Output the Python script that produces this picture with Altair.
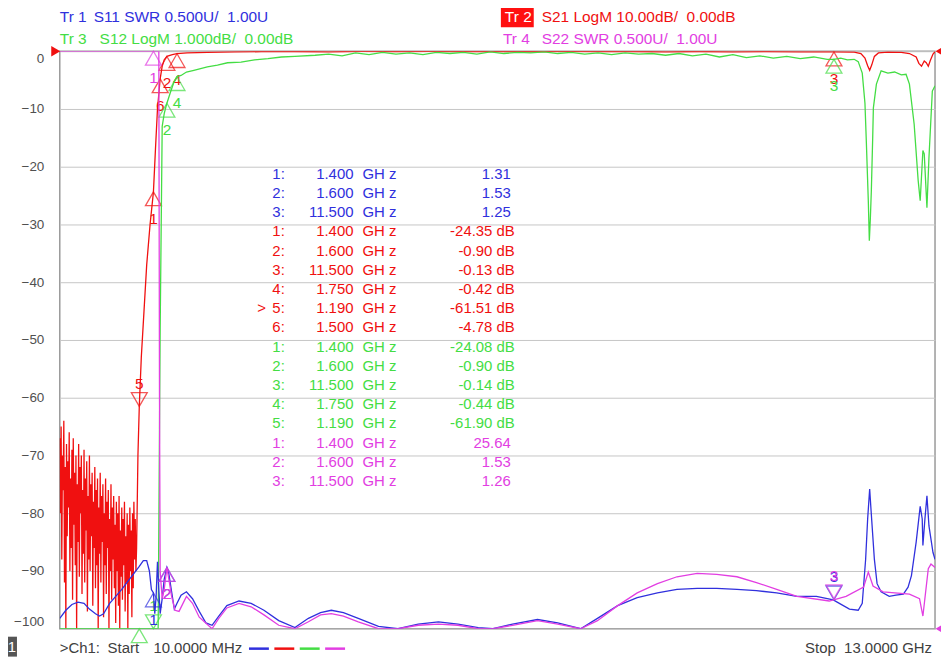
import altair as alt
import pandas as pd

# ---------------- data ----------------
# S21 (Tr 2, LogM, dB): noisy stop band, then the pass band
s21_f = [0.01, 0.02, 0.03, 0.04, 0.05, 0.06, 0.07, 0.08, 0.09, 0.10, 0.11, 0.12, 0.13, 0.14, 0.15,
         0.16, 0.17, 0.18, 0.19, 0.20, 0.21, 0.22, 0.23, 0.24, 0.25, 0.26, 0.27, 0.28, 0.29, 0.30,
         0.31, 0.32, 0.33, 0.34, 0.35, 0.36, 0.37, 0.38, 0.39, 0.40, 0.41, 0.42, 0.43, 0.44, 0.45,
         0.46, 0.47, 0.48, 0.49, 0.50, 0.51, 0.52, 0.53, 0.54, 0.55, 0.56, 0.57, 0.58, 0.59, 0.60,
         0.61, 0.62, 0.63, 0.64, 0.65, 0.66, 0.67, 0.68, 0.69, 0.70, 0.71, 0.72, 0.73, 0.74, 0.75,
         0.76, 0.77, 0.78, 0.79, 0.80, 0.81, 0.82, 0.83, 0.84, 0.85, 0.86, 0.87, 0.88, 0.89, 0.90,
         0.91, 0.92, 0.93, 0.94, 0.95, 0.96, 0.97, 0.98, 0.99, 1.00, 1.01, 1.02, 1.03, 1.04, 1.05,
         1.06, 1.07, 1.08, 1.09, 1.10, 1.11, 1.12, 1.13, 1.14, 1.15,
         1.17, 1.19, 1.22, 1.26, 1.30, 1.35, 1.40, 1.43, 1.46, 1.50, 1.53, 1.56, 1.60, 1.68, 1.75,
         1.9, 2.2, 2.6, 3.0, 3.5, 4.0, 4.5, 5.0, 5.5, 6.0, 6.5, 7.0, 7.5, 8.0, 8.5, 9.0, 9.5, 10.0,
         10.5, 11.0, 11.5, 11.8, 11.9, 11.96, 12.0, 12.03, 12.06, 12.1, 12.16, 12.3, 12.5, 12.62,
         12.72, 12.76, 12.8, 12.84, 12.87, 12.9, 12.93, 12.97, 13.0]
s21_db = [-67, -80, -65, -88, -70, -76, -64, -92, -72, -100, -68, -84, -71, -79, -66,
          -90, -74, -86, -69, -95, -67, -82, -73, -89, -70, -100, -75, -85, -68, -91,
          -72, -80, -70, -94, -76, -87, -69, -92, -74, -83, -71, -97, -77, -88, -70,
          -90, -75, -84, -73, -96, -78, -86, -72, -93, -76, -89, -74, -100, -79, -87,
          -73, -92, -77, -85, -75, -98, -80, -89, -74, -94, -78, -86, -76, -100, -81,
          -90, -75, -95, -79, -88, -77, -93, -82, -99, -78, -90, -80, -96, -77, -100,
          -83, -91, -79, -95, -81, -89, -78, -97, -84, -92, -80, -100, -82, -94, -79,
          -90, -83, -98, -80, -93, -78, -88, -81, -90, -86,
          -70, -61.51, -53, -45, -37, -30, -24.35, -17, -10, -4.78, -2.6, -1.5, -0.90, -0.6, -0.42,
          -0.3, -0.2, -0.12, -0.08, -0.05, -0.1, -0.04, -0.08, -0.03, -0.07, -0.05, -0.09, -0.04,
          -0.08, -0.05, -0.1, -0.06, -0.11, -0.08, -0.12, -0.13, -0.15, -0.4, -1.2, -2.5, -3.3,
          -2.4, -0.9, -0.3, -0.15, -0.2, -0.4, -1.0, -2.1, -2.6, -1.7, -2.0, -2.6, -1.6, -0.5, -0.1]

# S12 (Tr 3, LogM, dB)
s12_f = [0.01, 0.5, 1.0, 1.19, 1.40, 1.47, 1.50, 1.53, 1.56, 1.60, 1.65, 1.70, 1.75, 1.81, 1.89,
         2.0, 2.1, 2.2, 2.35, 2.5, 2.7, 2.9, 3.1, 3.3, 3.5, 3.8, 4.0, 4.2, 4.4, 4.6, 4.8, 5.0,
         5.2, 5.4, 5.6, 5.8, 6.0, 6.2, 6.4, 6.6, 6.8, 7.0, 7.2, 7.4, 7.6, 7.8, 8.0, 8.2, 8.4,
         8.6, 8.8, 9.0, 9.2, 9.4, 9.6, 9.8, 10.0, 10.2, 10.4, 10.6, 10.8, 11.0, 11.2, 11.4,
         11.5, 11.6, 11.7, 11.8, 11.86, 11.92, 11.96, 11.98, 12.01, 12.025, 12.04, 12.055,
         12.075, 12.085, 12.13, 12.2, 12.3, 12.4, 12.5, 12.57, 12.62, 12.69, 12.75, 12.78,
         12.82, 12.84, 12.88, 12.91, 12.96, 13.0]
s12_db = [-60, -65, -70, -61.90, -24.08, -12, -4.8, -1.3, -1.08, -0.90, -0.72, -0.55, -0.44, -0.42,
          -0.36, -0.33, -0.30, -0.27, -0.24, -0.20, -0.19, -0.15, -0.13, -0.10, -0.09, -0.07,
          -0.05, -0.08, -0.03, -0.06, -0.02, -0.05, -0.03, -0.06, -0.02, -0.04, -0.02, -0.05,
          -0.01, -0.04, -0.02, -0.03, -0.01, -0.04, -0.02, -0.05, -0.03, -0.06, -0.03, -0.05,
          -0.04, -0.07, -0.04, -0.08, -0.05, -0.10, -0.06, -0.11, -0.08, -0.12, -0.09, -0.13,
          -0.10, -0.14, -0.14, -0.12, -0.15, -0.14, -0.18, -0.38, -0.9, -1.55, -2.6, -3.28,
          -2.9, -2.41, -1.5, -0.98, -0.57, -0.34, -0.38, -0.36, -0.41, -0.40, -0.57, -1.26,
          -2.24, -2.59, -1.72, -1.78, -2.71, -1.84, -0.69, -0.60]

# S11 (Tr 1, SWR)
s11_f = [0.01, 0.10, 0.19, 0.28, 0.37, 0.45, 0.54, 0.60, 0.66, 0.75, 0.84, 0.93, 1.02, 1.10,
         1.19, 1.25, 1.30, 1.34, 1.37, 1.40, 1.42, 1.44, 1.46, 1.48, 1.50, 1.53, 1.56, 1.60,
         1.63, 1.67, 1.71, 1.75, 1.81, 1.89, 1.98, 2.08, 2.18, 2.27, 2.37, 2.49, 2.67, 2.85,
         3.04, 3.26, 3.50, 3.70, 3.88, 4.04, 4.22, 4.44, 4.74, 5.03, 5.33, 5.63, 5.92, 6.22,
         6.44, 6.73, 7.10, 7.40, 7.74, 7.99, 8.29, 8.58, 8.88, 9.17, 9.47, 9.76, 10.06, 10.35,
         10.65, 10.95, 11.24, 11.49, 11.58, 11.73, 11.86, 11.92, 11.97, 12.00, 12.03, 12.05,
         12.10, 12.14, 12.20, 12.32, 12.42, 12.53, 12.60, 12.65, 12.72, 12.78, 12.81, 12.82,
         12.85, 12.88, 12.91, 12.97, 13.0]
s11_swr = [1.09, 1.16, 1.21, 1.23, 1.22, 1.17, 1.13, 1.11, 1.13, 1.22, 1.28, 1.34, 1.41, 1.47,
           1.54, 1.59, 1.59, 1.50, 1.34, 1.31, 1.13, 1.28, 1.58, 1.34, 1.13, 1.26, 1.43, 1.53,
           1.47, 1.32, 1.17, 1.22, 1.29, 1.32, 1.26, 1.15, 1.05, 1.03, 1.11, 1.20, 1.24, 1.22,
           1.16, 1.07, 1.01, 1.09, 1.14, 1.16, 1.14, 1.09, 1.02, 0.99, 1.04, 1.06, 1.04, 1.01,
           0.99, 1.04, 1.08, 1.05, 0.98, 1.09, 1.20, 1.27, 1.31, 1.34, 1.35, 1.35, 1.34, 1.33,
           1.31, 1.28, 1.28, 1.25, 1.22, 1.17, 1.16, 1.22, 1.60, 1.95, 2.21, 2.03,
           1.60, 1.39, 1.32, 1.28, 1.29, 1.30, 1.36, 1.46, 1.75, 2.06, 1.95, 1.72,
           1.95, 2.15, 1.89, 1.66, 1.60]

# S22 (Tr 4, SWR)
s22_f = [0.01, 0.5, 1.0, 1.40, 1.46, 1.48, 1.49, 1.50, 1.53, 1.56, 1.60, 1.67, 1.72, 1.78,
         1.89, 1.98, 2.08, 2.27, 2.37, 2.49, 2.67, 2.85, 3.04, 3.26, 3.50, 3.70, 3.88, 4.04,
         4.22, 4.44, 4.74, 5.03, 5.33, 5.63, 5.92, 6.22, 6.44, 6.73, 7.10, 7.40, 7.74, 7.99,
         8.29, 8.58, 8.88, 9.17, 9.47, 9.76, 10.06, 10.35, 10.65, 10.95, 11.43, 11.68, 11.94,
         12.01, 12.08, 12.23, 12.62, 12.77, 12.82, 12.90, 12.94, 13.0]
s22_swr = [38, 35, 30, 25.64, 14, 6.5, 3.0, 1.49, 1.26, 1.34, 1.53, 1.28, 1.16, 1.15,
           1.28, 1.22, 1.10, 1.00, 1.09, 1.18, 1.22, 1.19, 1.12, 1.03, 0.99, 1.06, 1.12, 1.13,
           1.11, 1.06, 1.00, 0.98, 1.03, 1.04, 1.03, 0.99, 0.98, 1.03, 1.07, 1.04, 0.98, 1.07,
           1.20, 1.31, 1.39, 1.45, 1.48, 1.47, 1.45, 1.40, 1.34, 1.28, 1.24, 1.28, 1.36,
           1.49, 1.37, 1.32, 1.30, 1.26, 1.11, 1.52, 1.56, 1.53]

# markers: (number, frequency GHz, readout)
s11_markers = [(1, 1.400, 1.31), (2, 1.600, 1.53), (3, 11.500, 1.25)]
s21_markers = [(1, 1.400, -24.35), (2, 1.600, -0.90), (3, 11.500, -0.13), (4, 1.750, -0.42),
               (5, 1.190, -61.51), (6, 1.500, -4.78)]
s12_markers = [(1, 1.400, -24.08), (2, 1.600, -0.90), (3, 11.500, -0.14), (4, 1.750, -0.44),
               (5, 1.190, -61.90)]
s22_markers = [(1, 1.400, 25.64), (2, 1.600, 1.53), (3, 11.500, 1.26)]

y_ticks = [0, -10, -20, -30, -40, -50, -60, -70, -80, -90, -100]

NB = "\u00a0"
hdr_tr = ["Tr 1", "Tr 2", "Tr 3", "Tr 4"]
hdr_txt = ["S11 SWR 0.500U/" + NB + NB + "1.00U",
           "S21 LogM 10.00dB/" + NB + NB + "0.00dB",
           "S12 LogM 1.000dB/" + NB + NB + "0.00dB",
           "S22 SWR 0.500U/" + NB + NB + "1.00U"]
foot_parts = [">Ch1:", "Start", "10.0000 MHz"]
stop_text = "Stop" + NB + NB + "13.0000 GHz"

# ---------------- style ----------------
F0, F1 = 0.01, 13.0
W, H = 879, 580
FONT = "Liberation Sans, Arial, sans-serif"
BLUE, RED, GREEN, MAGENTA = "#3030dd", "#f01010", "#44dd44", "#e23ee2"
GREY_TXT = "#505050"

xscale = alt.Scale(domain=[F0, F1], nice=False, zero=False)
grid_x = [F0 + (F1 - F0) * i / 10 for i in range(1, 10)]

traces = [
    # name, freqs, values, lo, hi, color, markers, unit
    ("S21", s21_f, s21_db, -100.0, 0.0, RED, s21_markers, "dB"),
    ("S12", s12_f, s12_db, -10.0, 0.0, GREEN, s12_markers, "dB"),
    ("S11", s11_f, s11_swr, 1.0, 6.0, BLUE, s11_markers, ""),
    ("S22", s22_f, s22_swr, 1.0, 6.0, MAGENTA, s22_markers, ""),
]
active = {("S21", 5)}
flip_down = {("S21", 5), ("S11", 3), ("S22", 3), ("S12", 1)}

layers = []

# axis / grid carrier
axis_layer = alt.Chart(pd.DataFrame({"f": [F0, F1], "v": [-100.0, 0.0]})).mark_point(opacity=0).encode(
    x=alt.X("f:Q", scale=xscale,
            axis=alt.Axis(values=grid_x, labels=False, ticks=False, domain=False, grid=True,
                          gridColor="#c6c6c6", title=None)),
    y=alt.Y("v:Q", scale=alt.Scale(domain=[-100, 0], nice=False, zero=False),
            axis=alt.Axis(values=y_ticks, grid=True, gridColor="#c6c6c6", ticks=False, tickSize=0,
                          domain=False, labelFlush=True, labelPadding=16, labelFont=FONT,
                          labelFontSize=13.5, labelColor=GREY_TXT, title=None)),
)
layers.append(axis_layer)

for name, fs, vs, lo, hi, col, mk, unit in traces:
    ysc = alt.Scale(domain=[lo, hi], nice=False, zero=False)
    df = pd.DataFrame({"f": fs, "v": vs})
    line = alt.Chart(df).transform_calculate(
        yv=f"clamp(datum.v, {lo}, {hi})"
    ).mark_line(color=col, strokeWidth=1.3, clip=True).encode(
        x=alt.X("f:Q", scale=xscale, axis=None),
        y=alt.Y("yv:Q", scale=ysc, axis=None),
    )
    layers.append(line)
    mdf = pd.DataFrame({"n": [m[0] for m in mk], "f": [m[1] for m in mk], "v": [m[2] for m in mk]})
    mdf["lab"] = mdf["n"].astype(str)
    mdf["down"] = [(name, n) in flip_down for n in mdf["n"]]
    for down in (False, True):
        sub = mdf[mdf["down"] == down]
        if sub.empty:
            continue
        base = alt.Chart(sub).transform_calculate(yv=f"clamp(datum.v, {lo}, {hi})").encode(
            x=alt.X("f:Q", scale=xscale, axis=None),
            y=alt.Y("yv:Q", scale=ysc, axis=None),
        )
        tri = base.mark_point(shape="triangle-down" if down else "triangle-up", size=256,
                              filled=False, color=col, strokeWidth=1.3,
                              yOffset=-7 if down else 7)
        labsrc = base if down else base.transform_filter(f"datum.v > {lo}")
        lab = labsrc.mark_text(font=FONT, fontSize=15.5, color=col,
                               yOffset=-23 if down else 27).encode(text="lab:N")
        layers += [tri, lab]

# marker table
rows = []
table_order = [traces[2], traces[0], traces[1], traces[3]]
for name, fs, vs, lo, hi, col, mk, unit in table_order:
    for n, f, v in mk:
        rows.append({
            "act": ">" if (name, n) in active else "",
            "idx": f"{n}:",
            "freq": f"{f:.3f}",
            "unit": "GH z",
            "val": f"{v:.2f} dB" if unit == "dB" else f"{v:.2f}",
            "c": col,
            "dbrow": unit == "dB",
        })
tdf = pd.DataFrame(rows)
tdf["row"] = range(len(tdf))
tbase = alt.Chart(tdf).transform_calculate(py="123 + datum.row * 19.3").encode(
    y=alt.Y("py:Q", scale=None), color=alt.Color("c:N", scale=None))
TS = 15
layers += [
    tbase.mark_text(font=FONT, fontSize=TS, align="right", x=207).encode(text="act:N"),
    tbase.mark_text(font=FONT, fontSize=TS, align="right", x=226).encode(text="idx:N"),
    tbase.mark_text(font=FONT, fontSize=TS, align="right", x=295).encode(text="freq:N"),
    tbase.mark_text(font=FONT, fontSize=TS, align="left", x=304).encode(text="unit:N"),
    tbase.transform_filter("datum.dbrow").mark_text(font=FONT, fontSize=TS, align="right", x=457).encode(text="val:N"),
    tbase.transform_filter("!datum.dbrow").mark_text(font=FONT, fontSize=TS, align="right", x=453).encode(text="val:N"),
]

one = pd.DataFrame({"k": [0]})


def txt(s, x, y, col, size=15.5, align="left"):
    return alt.Chart(one).mark_text(text=s, font=FONT, fontSize=size, color=col, align=align,
                                    baseline="middle").encode(x=alt.value(x), y=alt.value(y))


# header
layers += [
    txt(hdr_tr[0], 0, -34.5, BLUE),
    txt(hdr_txt[0], 34, -34.5, BLUE),
    txt(hdr_tr[2], 0, -12, GREEN),
    txt(hdr_txt[2], 40, -12, GREEN),
    alt.Chart(one).mark_rect(color="#ff1010").encode(x=alt.value(443), x2=alt.value(476),
                                                     y=alt.value(-46), y2=alt.value(-24)),
    txt(hdr_tr[1], 447, -34.5, "white"),
    txt(hdr_txt[1], 484, -34.5, RED),
    txt(hdr_tr[3], 445, -12, MAGENTA),
    txt(hdr_txt[3], 484, -12, MAGENTA),
]

# reference-position triangles
def refmark(shape, x, y, col):
    return alt.Chart(one).mark_point(shape=shape, size=110, filled=True, color=col, opacity=1).encode(
        x=alt.value(x), y=alt.value(y))


layers += [
    refmark("triangle-right", -4, 0, RED),
    refmark("triangle-left", 884, 0, RED),
    refmark("triangle-left", 884, H, MAGENTA),
]

# footer
layers += [
    alt.Chart(one).mark_rect(color="#555555").encode(x=alt.value(-60), x2=alt.value(-43),
                                                     y=alt.value(588), y2=alt.value(608)),
    txt("1", -48, 598, "white", 15, "center"),
    txt(foot_parts[0], 0, 599, "#404040", 15),
    txt(foot_parts[1], 48, 599, "#404040", 15),
    txt(foot_parts[2], 94, 599, "#404040", 15),
    txt(stop_text, 876, 599, "#404040", 15, "right"),
]
for i, col in enumerate([BLUE, RED, GREEN, MAGENTA]):
    x0 = 190 + i * 25.5
    layers.append(alt.Chart(one).mark_rule(color=col, strokeWidth=2.5).encode(
        x=alt.value(x0), x2=alt.value(x0 + 20), y=alt.value(600)))

chart = alt.layer(*layers).resolve_scale(y="independent").properties(
    width=W, height=H,
    padding={"left": 52, "top": 42, "right": 6, "bottom": 28},
    autosize=alt.AutoSizeParams(type="none"),
    background="white",
).configure_view(stroke="#9a9a9a", strokeWidth=1.5)

chart.save("out.html", embed_options={"renderer": "svg", "actions": False})
